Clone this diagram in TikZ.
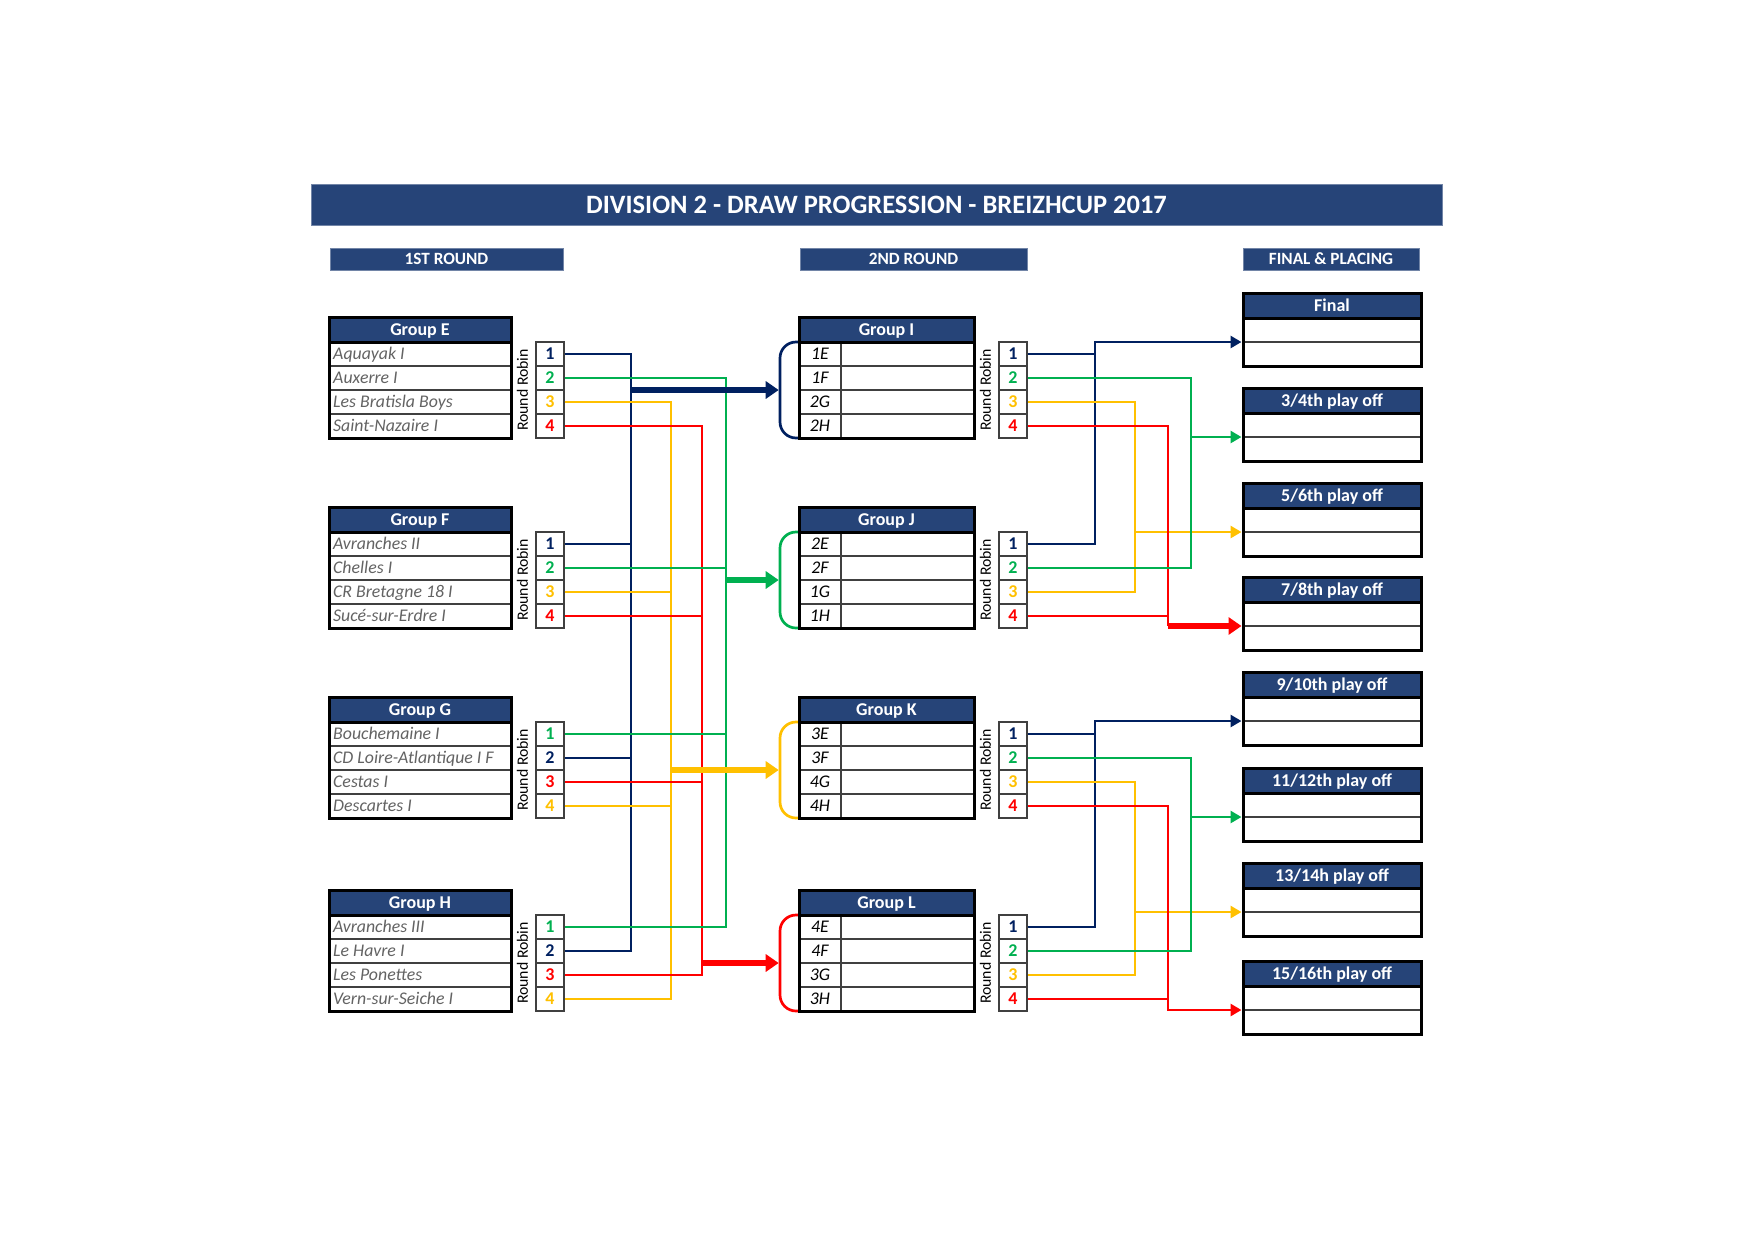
\documentclass[tikz,border=0pt]{standalone}
\usepackage{fontspec}
\setmainfont{Carlito}
\usetikzlibrary{arrows.meta}
\definecolor{hdrblue}{HTML}{264478}
\definecolor{cN}{HTML}{002060}
\definecolor{cG}{HTML}{00B050}
\definecolor{cY}{HTML}{FFC000}
\definecolor{cR}{HTML}{FF0000}
\definecolor{teamgray}{HTML}{636363}
\definecolor{rowgray}{HTML}{404040}

% group shell: name, xl, xr, top, title
\newcommand\Shell[5]{%
  \fill[hdrblue] (#2,#4) rectangle (#3,#4+25);
  \node[hdrtxt] (#1) at ({(#2+#3)/2},#4+18.7) {#5};
  \draw[rowline] (#2,#4+49) -- (#3,#4+49) (#2,#4+73) -- (#3,#4+73) (#2,#4+97) -- (#3,#4+97);
  \draw[boxline] (#2,#4+25) -- (#3,#4+25);
  \draw[boxline] (#2,#4) rectangle (#3,#4+121);
}
% placing box: name, top, title
\newcommand\Place[3]{%
  \fill[hdrblue] (1243,#2) rectangle (1421,#2+25);
  \node[hdrtxt] (#1) at (1332,#2+18.7) {#3};
  \draw[rowline] (1243,#2+49) -- (1421,#2+49);
  \draw[boxline] (1243,#2+25) -- (1421,#2+25);
  \draw[boxline] (1243,#2) rectangle (1421,#2+73);
  \coordinate (#1t) at (1241.5,#2+49);
}
% number column: prefix, xc, top, colours
\newcommand\Nums[7]{%
  \node[numcell,text=#4] (#1n1) at (#2,#3+37) {1};
  \node[numcell,text=#5] (#1n2) at (#2,#3+61) {2};
  \node[numcell,text=#6] (#1n3) at (#2,#3+85) {3};
  \node[numcell,text=#7] (#1n4) at (#2,#3+109) {4};
  \node[rr] (#1rr) at (#2-27.5,#3+73) {Round Robin};
}
% team names: prefix, top, names
\newcommand\Teams[6]{%
  \node[team] (#1t1) at (333,#2+42) {#3};
  \node[team] (#1t2) at (333,#2+66) {#4};
  \node[team] (#1t3) at (333,#2+90) {#5};
  \node[team] (#1t4) at (333,#2+114) {#6};
}
% codes: prefix, top, codes
\newcommand\Codes[6]{%
  \draw[rowline] (841,#2+26.5) -- (841,#2+119.5);
  \node[code] (#1c1) at (820,#2+42) {#3};
  \node[code] (#1c2) at (820,#2+66) {#4};
  \node[code] (#1c3) at (820,#2+90) {#5};
  \node[code] (#1c4) at (820,#2+114) {#6};
}
% bracket: name, top, colour
\newcommand\Brk[3]{%
  \draw[brk,#3] (799,#2+25) -- (780,#2+25) -- (780,#2+121) -- (799,#2+121);
  \coordinate (#1) at (778.7,#2+73);
}

\begin{document}
\begin{tikzpicture}[x=1pt,y=-1pt,
  hdrtxt/.style={anchor=base,text=white,inner sep=0,font=\bfseries\fontsize{18}{20}\selectfont},
  boxline/.style={line width=3pt,black},
  rowline/.style={line width=1.4pt,rowgray},
  team/.style={anchor=base west,inner sep=0,text=teamgray,font=\itshape\fontsize{17.8}{20}\selectfont},
  code/.style={anchor=base,inner sep=0,font=\itshape\fontsize{17.8}{20}\selectfont},
  numcell/.style={draw=rowgray,line width=1.2pt,fill=white,minimum width=28pt,minimum height=24pt,inner sep=0,font=\bfseries\fontsize{18}{20}\selectfont},
  rr/.style={rotate=90,inner sep=0,font=\fontsize{15.8}{17}\selectfont},
  conn/.style={line width=2.7pt},
  arr/.style={conn,-{Triangle[length=11pt,width=12pt]}},
  bigarr/.style={line width=5.5pt,-{Triangle[length=13pt,width=17pt]}},
  brk/.style={line width=2.7pt,rounded corners=16pt},
  secbar/.style={fill=hdrblue,draw=hdrblue!65!white,line width=1pt,text=white,inner sep=0,font=\bfseries\fontsize{17.2}{19}\selectfont}
]
\fill[white] (0,0) rectangle (1754,1240);
\useasboundingbox (0,0) rectangle (1754,1240);

% title and section bars
\node[secbar,minimum width=1131pt,minimum height=41pt,font=\bfseries\fontsize{26.5}{28}\selectfont] (title) at (876.5,204.5) {DIVISION 2 - DRAW PROGRESSION - BREIZHCUP 2017};
\node[secbar,minimum width=233pt,minimum height=22pt] (sec1) at (446.5,259) {1ST ROUND};
\node[secbar,minimum width=227pt,minimum height=22pt] (sec2) at (913.5,259) {2ND ROUND};
\node[secbar,minimum width=176pt,minimum height=22pt] (sec3) at (1331,259) {FINAL \& PLACING};

% brackets of second round
\Brk{bI}{317}{cN}
\Brk{bJ}{507}{cG}
\Brk{bK}{697}{cY}
\Brk{bL}{890}{cR}

% first round groups
\Shell{gE}{329}{511}{317}{Group E}
\Teams{E}{317}{Aquayak I}{Auxerre I}{Les Bratisla Boys}{Saint-Nazaire I}
\Nums{E}{550}{317}{cN}{cG}{cY}{cR}
\Shell{gF}{329}{511}{507}{Group F}
\Teams{F}{507}{Avranches II}{Chelles I}{CR Bretagne 18 I}{Sucé-sur-Erdre I}
\Nums{F}{550}{507}{cN}{cG}{cY}{cR}
\Shell{gG}{329}{511}{697}{Group G}
\Teams{G}{697}{Bouchemaine I}{CD Loire-Atlantique I F}{Cestas I}{Descartes I}
\Nums{G}{550}{697}{cG}{cN}{cR}{cY}
\Shell{gH}{329}{511}{890}{Group H}
\Teams{H}{890}{Avranches III}{Le Havre I}{Les Ponettes}{Vern-sur-Seiche I}
\Nums{H}{550}{890}{cG}{cN}{cR}{cY}

% second round groups
\Shell{gI}{799}{974}{317}{Group I}
\Codes{I}{317}{1E}{1F}{2G}{2H}
\Nums{I}{1013}{317}{cN}{cG}{cY}{cR}
\Shell{gJ}{799}{974}{507}{Group J}
\Codes{J}{507}{2E}{2F}{1G}{1H}
\Nums{J}{1013}{507}{cN}{cG}{cY}{cR}
\Shell{gK}{799}{974}{697}{Group K}
\Codes{K}{697}{3E}{3F}{4G}{4H}
\Nums{K}{1013}{697}{cN}{cG}{cY}{cR}
\Shell{gL}{799}{974}{890}{Group L}
\Codes{L}{890}{4E}{4F}{3G}{3H}
\Nums{L}{1013}{890}{cN}{cG}{cY}{cR}

% final and placing
\Place{pF}{293}{Final}
\Place{pA}{388}{3/4th play off}
\Place{pB}{483}{5/6th play off}
\Place{pC}{577}{7/8th play off}
\Place{pD}{672}{9/10th play off}
\Place{pE}{768}{11/12th play off}
\Place{pG}{863}{13/14h play off}
\Place{pH}{961}{15/16th play off}

% bus positions
\coordinate (xN1) at (631,0);
\coordinate (xY1) at (671,0);
\coordinate (xR1) at (702,0);
\coordinate (xG1) at (726,0);
\coordinate (xN2) at (1095,0);
\coordinate (xY2) at (1135,0);
\coordinate (xR2) at (1168,0);
\coordinate (xG2) at (1191,0);

% first round -> second round
\draw[conn,cN] (En1.east) -| (Hn2.east -| xN1) -- (Hn2.east);
\draw[conn,cN] (Fn1.east) -- (Fn1.east -| xN1);
\draw[conn,cN] (Gn2.east) -- (Gn2.east -| xN1);
\draw[conn,cY] (En3.east) -| (Hn4.east -| xY1) -- (Hn4.east);
\draw[conn,cY] (Fn3.east) -- (Fn3.east -| xY1);
\draw[conn,cY] (Gn4.east) -- (Gn4.east -| xY1);
\draw[conn,cR] (En4.east) -| (Hn3.east -| xR1) -- (Hn3.east);
\draw[conn,cR] (Fn4.east) -- (Fn4.east -| xR1);
\draw[conn,cR] (Gn3.east) -- (Gn3.east -| xR1);
\draw[conn,cG] (En2.east) -| (Hn1.east -| xG1) -- (Hn1.east);
\draw[conn,cG] (Fn2.east) -- (Fn2.east -| xG1);
\draw[conn,cG] (Gn1.east) -- (Gn1.east -| xG1);
\draw[bigarr,cN] (bI -| xN1) -- (bI);
\draw[bigarr,cG] (bJ -| xG1) -- (bJ);
\draw[bigarr,cY] (bK -| xY1) -- (bK);
\draw[bigarr,cR] (bL -| xR1) -- (bL);

% second round -> placing (upper)
\draw[conn,cN] (In1.east) -- (In1.east -| xN2);
\draw[arr,cN] (Jn1.east) -| (pFt -| xN2) -- (pFt);
\draw[conn,cY] (In3.east) -| (Jn3.east -| xY2) -- (Jn3.east);
\draw[arr,cY] (pBt -| xY2) -- (pBt);
\draw[conn,cR] (In4.east) -| (pCt -| xR2);
\draw[conn,cR] (Jn4.east) -- (Jn4.east -| xR2);
\draw[bigarr,cR] (pCt -| xR2) -- (pCt);
\draw[conn,cG] (In2.east) -| (Jn2.east -| xG2) -- (Jn2.east);
\draw[arr,cG] (pAt -| xG2) -- (pAt);

% second round -> placing (lower)
\draw[conn,cN] (Kn1.east) -- (Kn1.east -| xN2);
\draw[arr,cN] (Ln1.east) -| (pDt -| xN2) -- (pDt);
\draw[conn,cY] (Kn3.east) -| (Ln3.east -| xY2) -- (Ln3.east);
\draw[arr,cY] (pGt -| xY2) -- (pGt);
\draw[arr,cR] (Kn4.east) -| (pHt -| xR2) -- (pHt);
\draw[conn,cR] (Ln4.east) -- (Ln4.east -| xR2);
\draw[conn,cG] (Kn2.east) -| (Ln2.east -| xG2) -- (Ln2.east);
\draw[arr,cG] (pEt -| xG2) -- (pEt);
\end{tikzpicture}
\end{document}
